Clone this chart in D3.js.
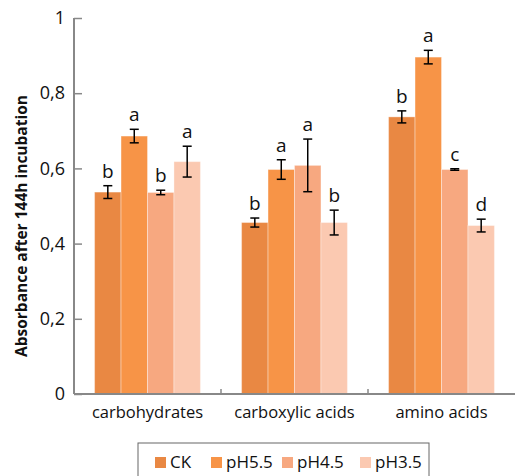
<!DOCTYPE html>
<html>
<head>
<meta charset="utf-8">
<script src="https://cdn.jsdelivr.net/npm/d3@7"></script>
<style>
  body { margin: 0; background: #fff; }
  svg { display: block; font-family: "Open Sans", sans-serif; }
</style>
</head>
<body>
<svg id="chart" width="516" height="476"></svg>
<script>
var categories = ["carbohydrates", "carboxylic acids", "amino acids"];
var series = ["CK", "pH5.5", "pH4.5", "pH3.5"];
var colors = ["#e98843", "#f79447", "#f7a880", "#fbc9b1"];

// means, one array per category (order CK, pH5.5, pH4.5, pH3.5)
var carbohydrates = [0.537, 0.686, 0.536, 0.618];
var carboxylic = [0.456, 0.597, 0.608, 0.456];
var amino = [0.737, 0.896, 0.597, 0.448];

var errCarbohydrates = [0.017, 0.018, 0.006, 0.041];
var errCarboxylic = [0.012, 0.026, 0.070, 0.033];
var errAmino = [0.016, 0.018, 0.002, 0.017];

var letCarbohydrates = ["b", "a", "b", "a"];
var letCarboxylic = ["b", "a", "a", "b"];
var letAmino = ["b", "a", "c", "d"];

var yTicks = [0, 0.2, 0.4, 0.6, 0.8, 1];

var means = [carbohydrates, carboxylic, amino];
var errs = [errCarbohydrates, errCarboxylic, errAmino];
var lets = [letCarbohydrates, letCarboxylic, letAmino];

var data = [];
categories.forEach(function(c, i) {
  series.forEach(function(s, j) {
    data.push({cat: c, ser: s, idx: j, v: means[i][j], e: errs[i][j], l: lets[i][j]});
  });
});

var svg = d3.select("#chart"),
  margin = {top: 18, right: 1, bottom: 82, left: 74},
  width = +svg.attr("width") - margin.left - margin.right,
  height = +svg.attr("height") - margin.top - margin.bottom,
  g = svg.append("g").attr("transform", "translate(" + margin.left + "," + margin.top + ")");

var x0 = d3.scaleBand()
  .domain(categories)
  .range([0, width]);

var x1 = d3.scaleBand()
  .domain(series)
  .range([x0.bandwidth() * 0.14, x0.bandwidth() * 0.86]);

var y = d3.scaleLinear()
  .domain([0, 1])
  .range([height, 0]);

var color = d3.scaleOrdinal().domain(series).range(colors);

// bars
g.selectAll(".bar")
  .data(data)
  .enter().append("rect")
  .attr("class", "bar")
  .attr("x", function(d) { return x0(d.cat) + x1(d.ser); })
  .attr("y", function(d) { return y(d.v); })
  .attr("width", x1.bandwidth())
  .attr("height", function(d) { return height - y(d.v); })
  .style("fill", function(d) { return color(d.ser); })
  .style("stroke", "rgba(255,255,255,0.35)")
  .style("stroke-width", 1);

// error bars
var eb = g.selectAll(".err")
  .data(data)
  .enter().append("g")
  .attr("class", "err")
  .attr("transform", function(d) { return "translate(" + (x0(d.cat) + x1(d.ser) + x1.bandwidth() / 2) + ",0)"; });

eb.append("line")
  .attr("y1", function(d) { return y(d.v - d.e); })
  .attr("y2", function(d) { return y(d.v + d.e); })
  .attr("stroke", "#000").attr("stroke-width", 1.5);
eb.append("line")
  .attr("x1", -4.5).attr("x2", 4.5)
  .attr("y1", function(d) { return y(d.v + d.e); })
  .attr("y2", function(d) { return y(d.v + d.e); })
  .attr("stroke", "#000").attr("stroke-width", 1.5);
eb.append("line")
  .attr("x1", -4.5).attr("x2", 4.5)
  .attr("y1", function(d) { return y(d.v - d.e); })
  .attr("y2", function(d) { return y(d.v - d.e); })
  .attr("stroke", "#000").attr("stroke-width", 1.5);

eb.append("text")
  .attr("y", function(d) { return y(d.v + d.e) - 8; })
  .attr("text-anchor", "middle")
  .style("font-size", "19px")
  .style("fill", "#111")
  .text(function(d) { return d.l; });

// y axis
var yAxis = g.append("g")
  .call(d3.axisRight(y).tickValues(yTicks).tickSize(8)
    .tickFormat(function(d) { return d3.format("")(d).replace(".", ","); }));
yAxis.select(".domain").attr("stroke", "#888").attr("stroke-width", 2).attr("d", "M0," + height + "V0");
yAxis.selectAll(".tick line").attr("stroke", "#888").attr("stroke-width", 1.5);
yAxis.selectAll(".tick text")
  .attr("x", -9)
  .attr("text-anchor", "end")
  .style("font-size", "18px")
  .style("font-family", "'Open Sans', sans-serif")
  .style("fill", "#111");

// x axis
var xAxis = g.append("g")
  .attr("transform", "translate(0," + height + ")")
  .call(d3.axisBottom(x0).tickSize(0).tickPadding(12));
xAxis.select(".domain").attr("stroke", "#888").attr("stroke-width", 2).attr("d", "M0,0H" + width);
xAxis.selectAll(".tick text")
  .style("font-size", "16.5px")
  .style("font-family", "'Open Sans', sans-serif")
  .style("fill", "#111");

// small category separators
g.selectAll(".sep")
  .data(categories.slice(1))
  .enter().append("line")
  .attr("class", "sep")
  .attr("x1", function(d) { return x0(d); })
  .attr("x2", function(d) { return x0(d); })
  .attr("y1", height)
  .attr("y2", height - 5)
  .attr("stroke", "#888").attr("stroke-width", 1.5);

// y title
svg.append("text")
  .attr("transform", "translate(27," + (margin.top + height / 2 + 20) + ") rotate(-90)")
  .attr("text-anchor", "middle")
  .style("font-size", "15.5px")
  .style("font-weight", "bold")
  .style("fill", "#111")
  .text("Absorbance after 144h incubation");

// legend
var legend = svg.append("g").attr("transform", "translate(138,443)");
legend.append("rect")
  .attr("width", 291).attr("height", 40)
  .attr("fill", "none").attr("stroke", "#666").attr("stroke-width", 1);
var legX = [17, 73, 144, 222];
var items = legend.selectAll(".leg")
  .data(series)
  .enter().append("g")
  .attr("class", "leg")
  .attr("transform", function(d, i) { return "translate(" + legX[i] + ",0)"; });
items.append("rect")
  .attr("y", 14).attr("width", 11).attr("height", 11)
  .style("fill", function(d) { return color(d); });
items.append("text")
  .attr("x", 15).attr("y", 25)
  .style("font-size", "17px")
  .style("fill", "#111")
  .text(function(d) { return d; });
</script>
</body>
</html>
